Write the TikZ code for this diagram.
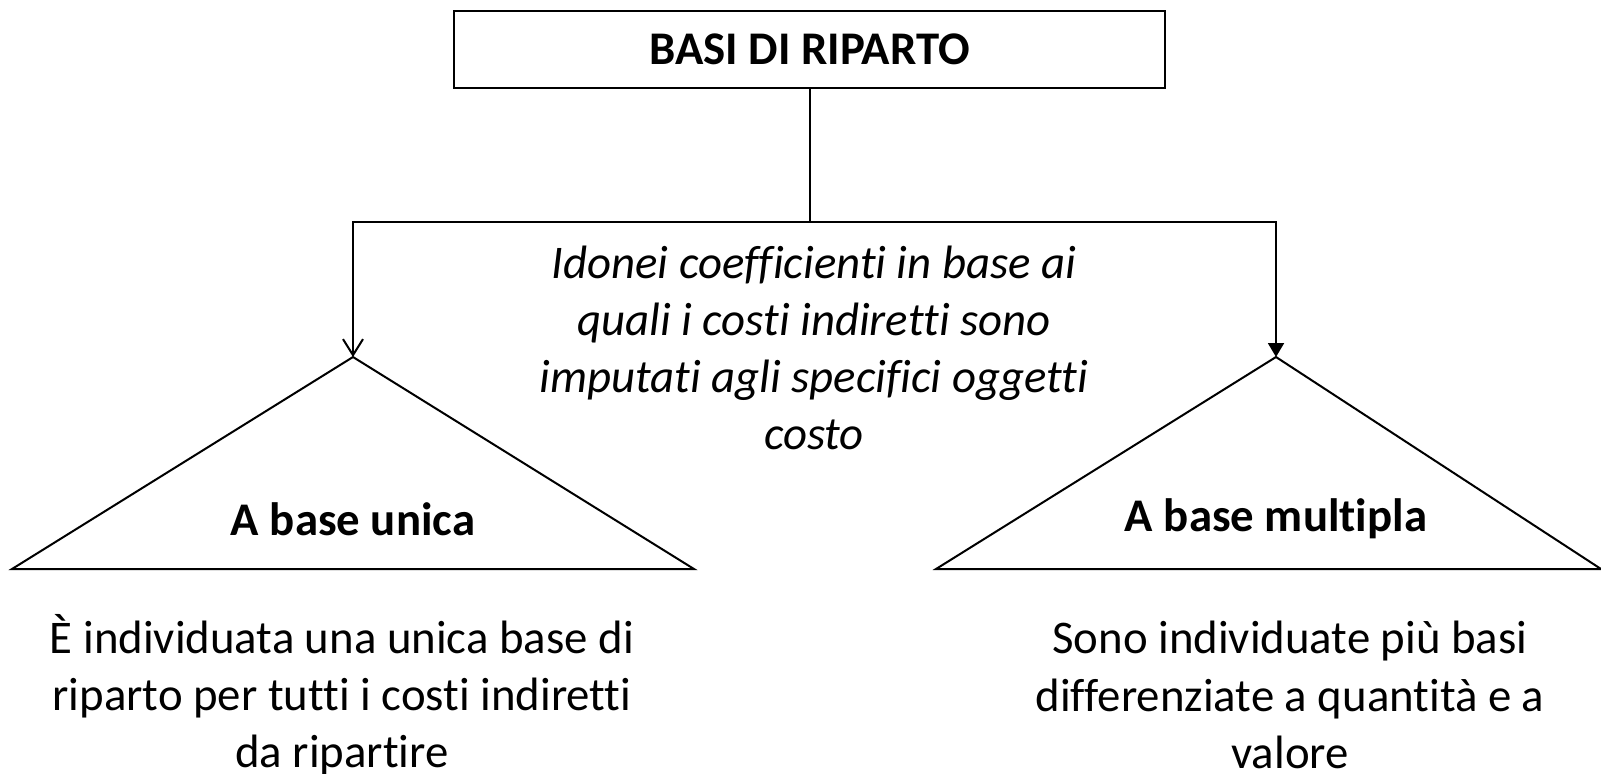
\documentclass[tikz,border=0pt]{standalone}
\usepackage{fontspec}
\setmainfont{Carlito}[Ligatures=NoCommon]
\usetikzlibrary{arrows.meta}
\begin{document}
\begin{tikzpicture}[x=0.5pt,y=-0.5pt,
  line width=1pt,
  txt/.style={font=\fontsize{23.4}{28.6}\selectfont, align=center, inner sep=0pt},
  hdr/.style={txt, font=\fontsize{23.4}{28.6}\selectfont\bfseries},
  titlebox/.style={draw, minimum width=355.5pt, minimum height=38.5pt, inner sep=0pt, font=\fontsize{23.4}{28.6}\selectfont\bfseries}]
\useasboundingbox (0,0) rectangle (1601,773);
\node[titlebox] (title) at (809.5,49) {BASI DI RIPARTO};
\coordinate (j) at (809.5,222);
% triangles
\coordinate (la) at (353,357);
\coordinate (lb1) at (12,569);
\coordinate (lb2) at (694,569);
\coordinate (ra) at (1276,357);
\coordinate (rb1) at (936,569);
\coordinate (rb2) at (1601,569);
\draw (lb1) -- (la) -- (lb2) -- cycle;
\draw (rb1) -- (ra) -- (rb2) -- cycle;
% connectors
\draw (title.south) -- (j);
\draw[-{Straight Barb[length=8pt,width=10pt]}] (j) -| (la);
\draw[-{Triangle[length=7pt,width=8pt]}] (j) -| (ra);
% texts
\node[txt, font=\fontsize{23.4}{28.6}\selectfont\itshape] (desc) at (814,348) {Idonei coefficienti in base ai\\quali i costi indiretti sono\\imputati agli specifici oggetti\\costo};
\node[hdr] (lh) at (353,519) {A base unica};
\node[hdr] (rh) at (1276,519) {A base multipla};
\node[txt] (lt) at (342,695) {È individuata una unica base di\\riparto per tutti i costi indiretti\\da ripartire};
\node[txt] (rt) at (1290,695) {Sono individuate più basi\\differenziate a quantità e a\\valore};
\end{tikzpicture}
\end{document}
